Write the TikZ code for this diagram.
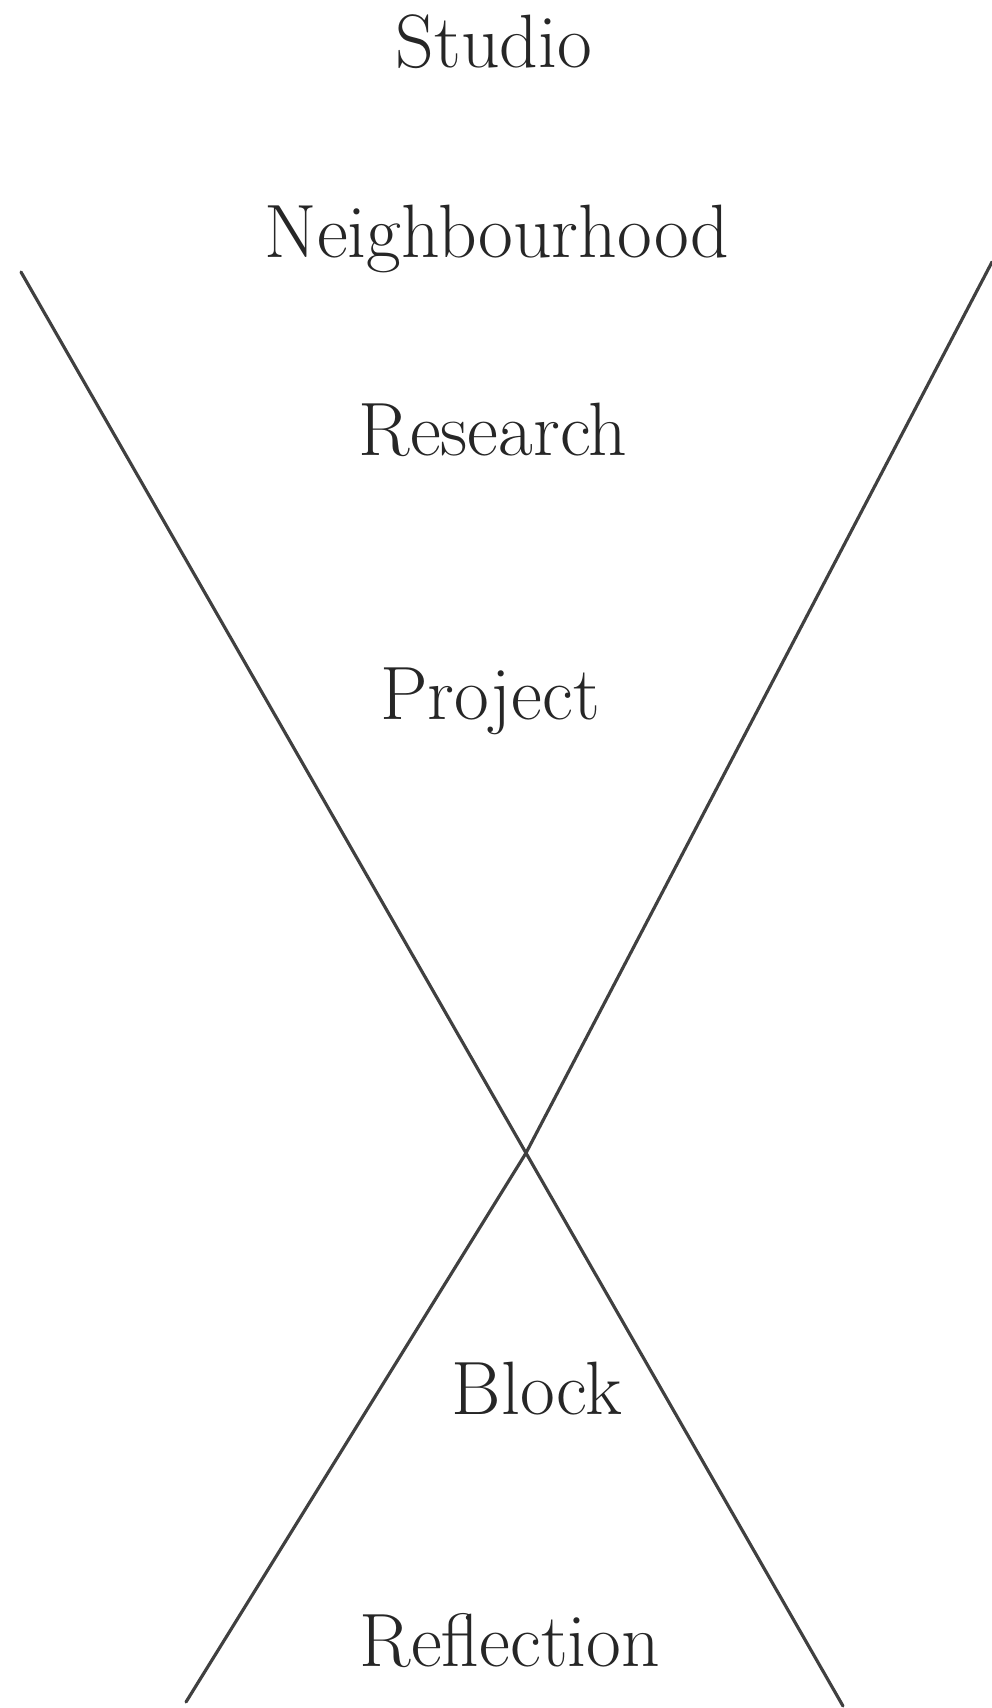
\documentclass[tikz,border=0pt]{standalone}
\usepackage{tikz}
\usetikzlibrary{positioning}

\begin{document}
\begin{tikzpicture}[
  x=0.01cm, y=-0.01cm,
  word/.style={anchor=base, font=\fontsize{21.5}{25}\selectfont, text=black!85},
  stroke/.style={line width=0.9pt, color=black!75, line cap=round, line join=round}
]
  \useasboundingbox (0,0) rectangle (992,1708);

  % Stages, top to bottom
  \node[word] (studio)  at (494,  67) {Studio};
  \node[word] (hood)    at (497, 257) {Neighbourhood};
  \node[word] (research)at (493, 455) {Research};
  \node[word] (project) at (490, 719) {Project};
  \node[word] (block)   at (537, 1414) {Block};
  \node[word] (reflect) at (510, 1666) {Reflection};

  % Ends of the two strokes
  \coordinate (lt)    at (21, 272);
  \coordinate (rt)    at (992, 262);
  \coordinate (cross) at (526, 1153);
  \coordinate (lb)    at (186, 1702);
  \coordinate (rb)    at (843, 1706);

  % Hourglass
  \draw[stroke] (lt) -- (cross) -- (rb);
  \draw[stroke] (rt) -- (cross) -- (lb);
\end{tikzpicture}
\end{document}
